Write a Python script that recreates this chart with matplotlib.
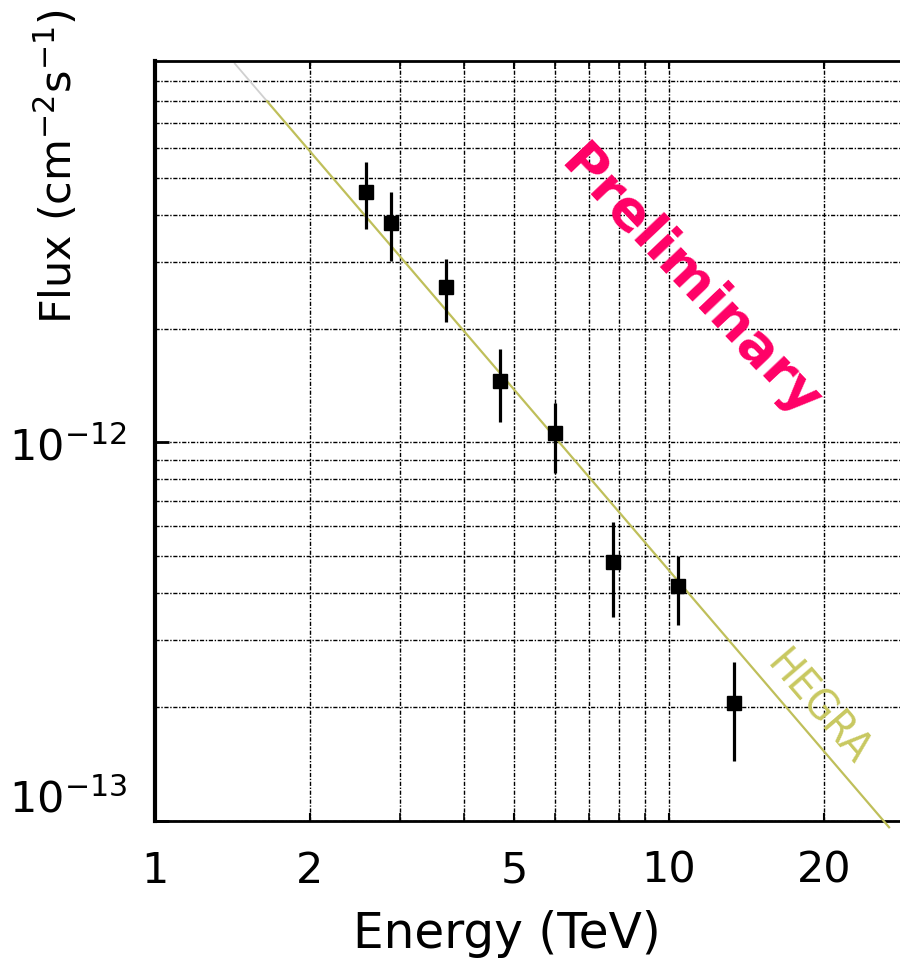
import numpy as np
import matplotlib
matplotlib.use('Agg')
import matplotlib.pyplot as plt
from matplotlib.ticker import FixedLocator, FixedFormatter, NullFormatter

# measured spectrum (TeV, cm^-2 s^-1)
energy = [2.57, 2.88, 3.68, 4.69, 6.0, 7.79, 10.4, 13.4]
flux = [4.59e-12, 3.80e-12, 2.57e-12, 1.455e-12, 1.058e-12, 4.82e-13, 4.18e-13, 2.05e-13]
flux_hi = [5.50e-12, 4.58e-12, 3.05e-12, 1.77e-12, 1.275e-12, 6.15e-13, 5.02e-13, 2.63e-13]
flux_lo = [3.66e-12, 3.02e-12, 2.075e-12, 1.133e-12, 8.33e-13, 3.45e-13, 3.29e-13, 1.44e-13]

# HEGRA power law
hegra_norm = 1.766e-11
hegra_index = 1.585
hegra_e_faint = [1.43, 1.652]
hegra_e = [1.652, 26.8]

xticks = [1, 2, 5, 10, 20]
xticklabels = ['1', '2', '5', '10', '20']

fontsize = 31
plt.rcParams['font.family'] = 'DejaVu Sans'
plt.rcParams['mathtext.default'] = 'regular'

fig = plt.figure(figsize=(9, 9.62), dpi=100)
ax = fig.add_axes([155/900, 1-822/962, 1-155/900, (822-62)/962])
ax.set_xscale('log')
ax.set_yscale('log')
ax.set_xlim(1, 10**1.4494)
ax.set_ylim(1e-13, 1.018e-11)

# grid
gstyle = dict(color='black', linestyle=(0, (3, 1.2, 1, 1.2)), linewidth=1.0)
ax.grid(True, which='both', **gstyle)
ax.set_axisbelow(True)

# HEGRA line
ef = np.array(hegra_e_faint)
ax.plot(ef, hegra_norm*ef**(-hegra_index), color='#d0d0d0', lw=1.3, clip_on=False)
eh = np.array(hegra_e)
ax.plot(eh, hegra_norm*eh**(-hegra_index), color='#bfbf5a', lw=1.6, clip_on=False, zorder=3)

# data points
f = np.array(flux)
yerr = [f - np.array(flux_lo), np.array(flux_hi) - f]
ax.errorbar(energy, flux, yerr=yerr, fmt='s', color='black', ms=9.5,
            elinewidth=2.3, capsize=0, zorder=4)

# ticks
ax.xaxis.set_major_locator(FixedLocator(xticks))
ax.xaxis.set_major_formatter(FixedFormatter(xticklabels))
ax.xaxis.set_minor_formatter(NullFormatter())
ax.set_yticks([1e-13, 1e-12])
ax.set_yticklabels([r'$10^{-13}$', r'$10^{-12}$'])
ax.yaxis.set_minor_formatter(NullFormatter())
ax.tick_params(which='both', direction='in', top=True, right=False, labelsize=fontsize)
ax.tick_params(axis='x', which='major', length=6, width=1.5, pad=20)
ax.tick_params(axis='x', which='minor', length=6, width=1.2)
ax.tick_params(axis='y', which='major', length=10, width=2, pad=20)
ax.tick_params(axis='y', which='minor', length=0)
ax.get_yticklabels()[0].set_va('bottom')

for s in ['top', 'bottom']:
    ax.spines[s].set_linewidth(2)
ax.spines['left'].set_linewidth(3)
ax.spines['right'].set_visible(False)

# labels
fig.text(507/900, 1-948/962, 'Energy (TeV)', fontsize=35, ha='center', va='baseline')
fig.text(57/900, 1-167/962, r'Flux (cm$^{-2}$s$^{-1}$)', fontsize=31,
         rotation=90, ha='center', va='center')

ax.text(690, 962-283, 'Preliminary', transform=None, fontsize=39, fontweight='bold',
        color='#ff0066', rotation=-46.5, ha='center', va='center',
        rotation_mode='anchor')
ax.text(818, 962-708, 'HEGRA', transform=None, fontsize=31, color='#c8c860',
        rotation=-49.4, ha='center', va='center', rotation_mode='anchor',
        fontstretch='condensed')

plt.savefig('out.png', dpi=100)
